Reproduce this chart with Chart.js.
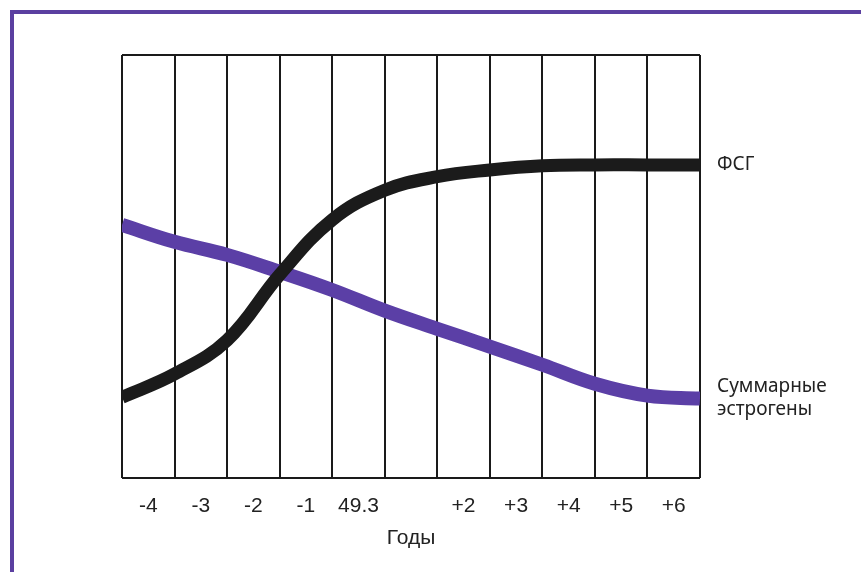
<!DOCTYPE html>
<html>
<head>
<meta charset="utf-8">
<script src="https://cdn.jsdelivr.net/npm/chart.js@4.4.1/dist/chart.umd.min.js"></script>
<style>
  html, body { margin: 0; padding: 0; background: #fff; }
  #wrap { position: relative; width: 861px; height: 572px; overflow: hidden; }
  #frame { position: absolute; left: 10px; top: 10px; width: 900px; height: 600px;
           border-left: 4px solid #5b3fa0; border-top: 4px solid #5b3fa0; box-sizing: border-box; }
  canvas { position: absolute; left: 0; top: 0; }
</style>
</head>
<body>
<div id="wrap">
  <div id="frame"></div>
  <canvas id="c" width="861" height="572"></canvas>
</div>
<script>
// Category tick labels (one per column)
const categories = ['-4', '-3', '-2', '-1', '49.3', '', '+2', '+3', '+4', '+5', '+6'];
// Positions along the year axis (column boundaries 0..11)
const xPositions = [0, 1, 2, 3, 4, 5, 6, 7, 8, 9, 10, 11];
// FSH (ФСГ), relative level 0..100
const fshValues = [19, 24.5, 32.5, 48, 61, 68, 71.2, 72.8, 73.8, 74, 74, 74];
// Total estrogens, relative level 0..100
const estrogenValues = [59.8, 55.8, 52.7, 48.7, 44.4, 39.5, 35.2, 31, 26.7, 22.2, 19.4, 18.7];
const seriesNames = [['ФСГ'], ['Суммарные', 'эстрогены']];
const axisTitle = 'Годы';

const toPoints = (vals) => vals.map((v, i) => ({ x: xPositions[i], y: v }));

const endLabels = {
  id: 'endLabels',
  afterDatasetsDraw(chart) {
    const ctx = chart.ctx;
    ctx.save();
    ctx.fillStyle = '#222';
    ctx.font = '19px "Noto Sans", "Open Sans", sans-serif';
    ctx.textAlign = 'left';
    ctx.textBaseline = 'middle';
    const lh = 23;
    chart.data.datasets.forEach((ds, i) => {
      const meta = chart.getDatasetMeta(i);
      const last = meta.data[meta.data.length - 1];
      const lines = seriesNames[i];
      const y0 = last.y - (lines.length - 1) * lh / 2;
      lines.forEach((t, k) => ctx.fillText(t, chart.chartArea.right + 17, y0 + k * lh));
    });
    ctx.restore();
  }
};

new Chart(document.getElementById('c'), {
  type: 'line',
  data: {
    datasets: [
      { label: seriesNames[0].join(' '), data: toPoints(fshValues), borderColor: '#1b1b1b',
        borderWidth: 13, pointRadius: 0, tension: 0.4, borderCapStyle: 'butt', xAxisID: 'xl' },
      { label: seriesNames[1].join(' '), data: toPoints(estrogenValues), borderColor: '#5b3fa6',
        borderWidth: 14, pointRadius: 0, tension: 0.4, borderCapStyle: 'butt', xAxisID: 'xl' }
    ]
  },
  options: {
    responsive: false,
    animation: false,
    layout: { padding: { left: 122, top: 55, right: 161, bottom: 17 } },
    plugins: { legend: { display: false }, tooltip: { enabled: false } },
    scales: {
      xl: { type: 'linear', min: 0, max: 11, display: false },
      x: {
        type: 'category', labels: categories, offset: true, position: 'bottom',
        grid: { display: true, offset: true, color: '#1a1a1a', lineWidth: 2, drawTicks: false },
        border: { display: false },
        ticks: { color: '#222', padding: 16, maxRotation: 0, autoSkip: false,
                 font: { family: '"Liberation Sans", Arial, sans-serif', size: 21 } },
        title: { display: true, text: axisTitle, color: '#222', padding: { top: -9, bottom: 4 },
                 font: { family: '"Liberation Sans", Arial, sans-serif', size: 21 } }
      },
      y: {
        min: 0, max: 100,
        ticks: { display: false, stepSize: 100 },
        grid: { color: '#1a1a1a', lineWidth: 2, drawTicks: false },
        border: { display: false }
      }
    }
  },
  plugins: [endLabels]
});
</script>
</body>
</html>
